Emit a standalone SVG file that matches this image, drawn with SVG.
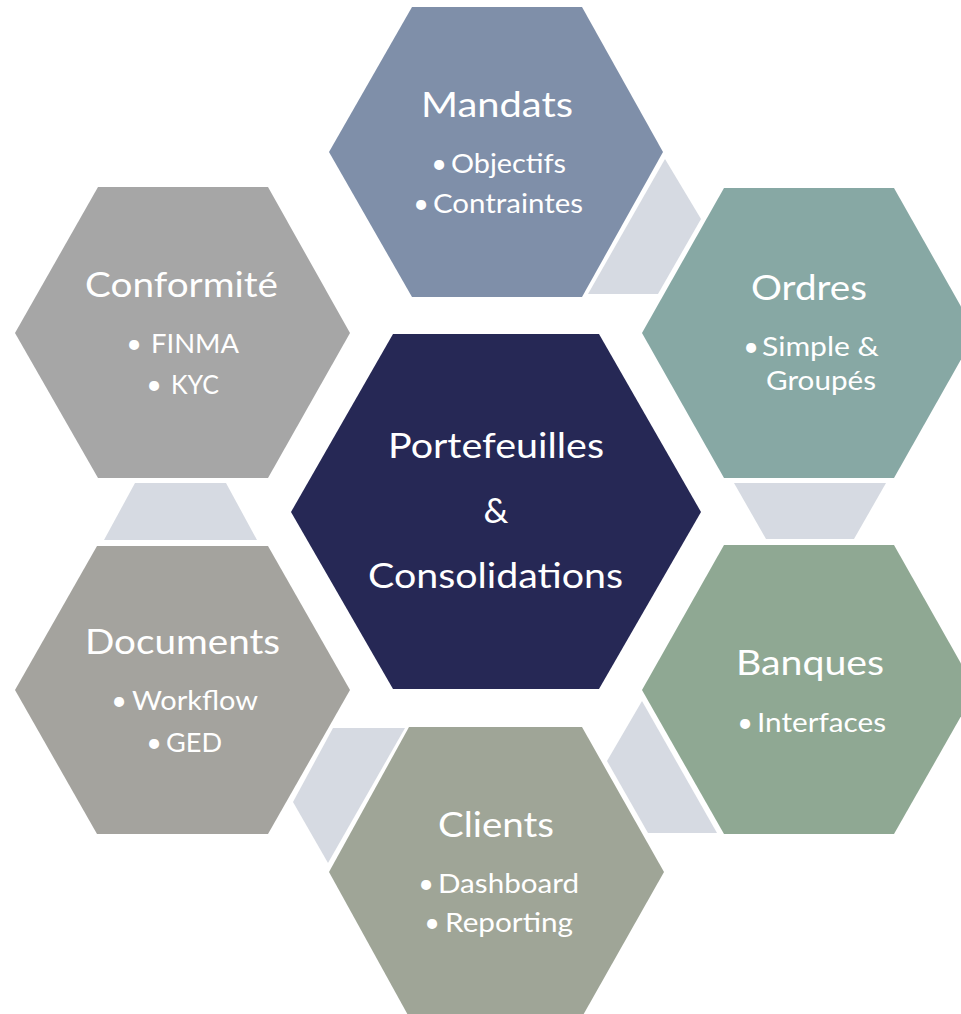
<svg xmlns="http://www.w3.org/2000/svg" width="961" height="1014" viewBox="0 0 961 1014">
<style>
.t{font-family:Lato,"Liberation Sans",sans-serif;fill:#FFFFFF;font-size:35px}
.b{font-family:Lato,"Liberation Sans",sans-serif;fill:#FFFFFF;font-size:27.5px}
.bl{font-family:Lato,"Liberation Sans",sans-serif;fill:#FFFFFF;font-size:27px;text-anchor:middle}
.c{fill:#D6DAE2}
</style>
<rect width="961" height="1014" fill="#FFFFFF"/>
<g id="connectors">
<polygon class="c" points="665,159 701,219 658,294 588,294"/>
<polygon class="c" points="734,483 886,483 854,539 766,539"/>
<polygon class="c" points="642,701 717,833 648,833 607,761"/>
<polygon class="c" points="333,728 405,728 328,863 293,802"/>
<polygon class="c" points="135,483 226,483 257,540 104,540"/>
</g>
<g id="mandats">
<polygon points="329,152 412,7 582,7 663,152 582,297 412,297" fill="#7F8FA9"/>
<text class="t" x="421" y="117" textLength="152" lengthAdjust="spacingAndGlyphs">Mandats</text>
<text class="bl" x="439" y="173">•</text>
<text class="b" x="451" y="173" textLength="115" lengthAdjust="spacingAndGlyphs">Objectifs</text>
<text class="bl" x="421" y="213">•</text>
<text class="b" x="433" y="213" textLength="150" lengthAdjust="spacingAndGlyphs">Contraintes</text>
</g>
<g id="ordres">
<polygon points="642,333 724,188 894,188 976,333 894,478 724,478" fill="#87A8A4"/>
<text class="t" x="751" y="300" textLength="116" lengthAdjust="spacingAndGlyphs">Ordres</text>
<text class="bl" x="751" y="356">•</text>
<text class="b" x="762" y="356" textLength="117" lengthAdjust="spacingAndGlyphs">Simple &amp;</text>
<text class="b" x="766" y="390" textLength="110" lengthAdjust="spacingAndGlyphs">Groupés</text>
</g>
<g id="conformite">
<polygon points="15,333 98,187 268,187 350,333 268,478 98,478" fill="#A6A6A6"/>
<text class="t" x="85" y="297" textLength="193" lengthAdjust="spacingAndGlyphs">Conformité</text>
<text class="bl" x="134" y="353">•</text>
<text class="b" x="151" y="353" textLength="88" lengthAdjust="spacingAndGlyphs">FINMA</text>
<text class="bl" x="154" y="394">•</text>
<text class="b" x="171" y="394" textLength="48" lengthAdjust="spacingAndGlyphs">KYC</text>
</g>
<g id="portefeuilles">
<polygon points="291,512 393,334 599,334 701,512 599,689 393,689" fill="#262855"/>
<text class="t" x="388" y="458" textLength="216" lengthAdjust="spacingAndGlyphs">Portefeuilles</text>
<text class="t" x="496" y="523" text-anchor="middle">&amp;</text>
<text class="t" x="368" y="588" textLength="255" lengthAdjust="spacingAndGlyphs">Consolidations</text>
</g>
<g id="banques">
<polygon points="642,690 724,545 894,545 976,690 894,834 724,834" fill="#8FA893"/>
<text class="t" x="736" y="675" textLength="148" lengthAdjust="spacingAndGlyphs">Banques</text>
<text class="bl" x="745" y="732">•</text>
<text class="b" x="757" y="732" textLength="129" lengthAdjust="spacingAndGlyphs">Interfaces</text>
</g>
<g id="clients">
<polygon points="329,872 409,727 582,727 664,872 582,1017 409,1017" fill="#9FA597"/>
<text class="t" x="438" y="837" textLength="116" lengthAdjust="spacingAndGlyphs">Clients</text>
<text class="bl" x="426" y="893">•</text>
<text class="b" x="438" y="893" textLength="141" lengthAdjust="spacingAndGlyphs">Dashboard</text>
<text class="bl" x="432" y="932">•</text>
<text class="b" x="445" y="932" textLength="128" lengthAdjust="spacingAndGlyphs">Reporting</text>
</g>
<g id="documents">
<polygon points="15,690 97,546 268,546 350,690 268,834 97,834" fill="#A4A39E"/>
<text class="t" x="85" y="654" textLength="195" lengthAdjust="spacingAndGlyphs">Documents</text>
<text class="bl" x="119" y="710">•</text>
<text class="b" x="132" y="710" textLength="126" lengthAdjust="spacingAndGlyphs">Workflow</text>
<text class="bl" x="154" y="752">•</text>
<text class="b" x="166" y="752" textLength="56" lengthAdjust="spacingAndGlyphs">GED</text>
</g>
</svg>
